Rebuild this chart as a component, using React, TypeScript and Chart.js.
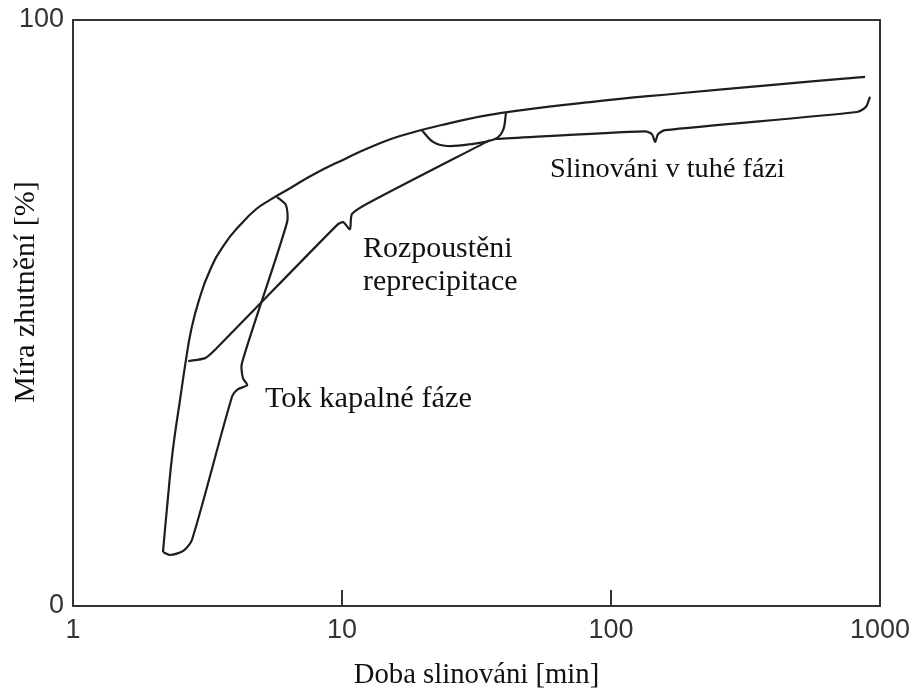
import React, { useEffect, useRef } from "react";
import { Chart, registerables } from "chart.js";

Chart.register(...registerables);

// ---- tick values / labels ----
const xTickValues = [1, 10, 100, 1000];
const xTickLabels = ["1", "10", "100", "1000"];
const yTickValues = [0, 100];
const yTickLabels = ["0", "100"];
const xInnerTicks = [10, 100];

// ---- axis titles ----
const xTitle = "Doba slinováni [min]";
const yTitle = "Míra zhutnění [%]";

// ---- main densification curve ----
const mainX = [2.16, 2.25, 2.35, 2.5, 2.63, 2.75, 2.94, 3.23, 3.64, 4.18, 4.79, 5.4, 6.41, 7.8, 10.26, 12.93, 16.43, 25.2, 38.7, 83.6, 180.5, 390, 880];
const mainY = [9.2, 18.1, 26.6, 35.2, 42.0, 47.1, 52.2, 57.3, 61.6, 65.0, 67.7, 69.3, 71.3, 73.6, 76.3, 78.4, 80.2, 82.4, 84.1, 86.0, 87.5, 88.9, 90.3];

// ---- stage 1: liquid flow (Tok kapalné fáze) ----
const flowX = [2.16, 2.29, 2.57, 2.77, 3.9, 4.11, 4.44, 4.28, 4.25, 6.25, 6.19, 5.73];
const flowY = [9.2, 8.7, 9.4, 11.3, 35.7, 37.0, 37.7, 38.9, 41.5, 65.5, 68.4, 69.8];

// ---- stage 2: solution-reprecipitation ----
const reprecX = [2.68, 3.1, 3.37, 9.58, 10.1, 10.7, 10.9, 12.7, 35.5];
const reprecY = [41.8, 42.3, 43.7, 65.0, 65.5, 64.3, 66.9, 68.9, 79.5];

// ---- stage 3: solid-state sintering (loop) ----
const solidLoopX = [19.8, 21.8, 24.6, 29.9, 37.1, 39.7, 40.7];
const solidLoopY = [81.2, 79.2, 78.5, 78.8, 79.7, 81.2, 84.1];

// ---- stage 3: brace ----
const solidBraceX = [37.1, 133.8, 142, 146, 149.5, 158.8, 821, 887, 918];
const solidBraceY = [79.7, 81.0, 80.5, 79.2, 80.5, 81.2, 84.3, 85.2, 86.9];

// ---- annotation labels (data coordinates of left/baseline) ----
const labelTexts = ["Tok kapalné fáze", "Rozpoustěni", "reprecipitace", "Slinováni v tuhé fázi"];
const labelX = [5.17, 11.98, 11.98, 59.3];
const labelY = [34.0, 59.6, 53.9, 73.2];

// ---- styles ----
const SERIF = "'Liberation Serif', 'Times New Roman', serif";
const SANS = "'Liberation Sans', Arial, sans-serif";
const LINE_COLOR = "#1e1e1e";
const labelFontSizes = [30.4, 29.9, 29.9, 28.3];
const X_TITLE_SIZE = 28.7;
const Y_TITLE_SIZE = 30;

function zip(xs: number[], ys: number[]) {
  return xs.map((x, i) => ({ x, y: ys[i] }));
}

const decorPlugin = {
  id: "decor",
  afterDraw(chart: any) {
    const { ctx, chartArea } = chart;
    const xs = chart.scales.x;
    const ys = chart.scales.y;
    ctx.save();
    // frame
    ctx.strokeStyle = "#333";
    ctx.lineWidth = 2;
    ctx.strokeRect(chartArea.left, chartArea.top, chartArea.right - chartArea.left, chartArea.bottom - chartArea.top);
    // inward ticks
    xInnerTicks.forEach((v) => {
      const px = Math.round(xs.getPixelForValue(v));
      ctx.beginPath();
      ctx.moveTo(px, chartArea.bottom);
      ctx.lineTo(px, chartArea.bottom - 16);
      ctx.stroke();
    });
    // annotations
    ctx.fillStyle = "#111";
    ctx.textAlign = "left";
    ctx.textBaseline = "alphabetic";
    labelTexts.forEach((t, i) => {
      ctx.font = `${labelFontSizes[i]}px ${SERIF}`;
      ctx.fillText(t, xs.getPixelForValue(labelX[i]), ys.getPixelForValue(labelY[i]));
    });
    // y axis title
    ctx.font = `${Y_TITLE_SIZE}px ${SERIF}`;
    ctx.translate(26, (ys.top + ys.bottom) / 2 - 21);
    ctx.rotate(-Math.PI / 2);
    ctx.textAlign = "center";
    ctx.textBaseline = "middle";
    ctx.fillText(yTitle, 0, 0);
    ctx.restore();
  },
};

export default function App() {
  const ref = useRef<HTMLCanvasElement | null>(null);

  useEffect(() => {
    if (!ref.current) return;
    const mk = (xs: number[], ys: number[], tension: number) => ({
      data: zip(xs, ys),
      borderColor: LINE_COLOR,
      borderWidth: 2.2,
      pointRadius: 0,
      fill: false,
      tension,
    });
    const chart = new Chart(ref.current, {
      type: "line",
      data: {
        datasets: [
          mk(mainX, mainY, 0.5),
          mk(flowX, flowY, 0.25),
          mk(reprecX, reprecY, 0.25),
          mk(solidLoopX, solidLoopY, 0.35),
          mk(solidBraceX, solidBraceY, 0.25),
        ],
      },
      options: {
        animation: false,
        responsive: false,
        devicePixelRatio: 1,
        layout: { padding: { top: 20, right: 34, left: 0, bottom: 0 } },
        plugins: { legend: { display: false }, tooltip: { enabled: false } },
        scales: {
          x: {
            type: "logarithmic",
            min: 1,
            max: 1000,
            afterBuildTicks: (s: any) => {
              s.ticks = xTickValues.map((v) => ({ value: v }));
            },
            afterFit: (s: any) => {
              s.height = 89;
              s.paddingLeft = 0;
              s.paddingRight = 0;
            },
            ticks: {
              autoSkip: false,
              maxRotation: 0,
              padding: 8,
              color: "#333",
              font: { family: SANS, size: 27 },
              callback: (_v: any, i: number) => xTickLabels[i],
            },
            grid: { display: false, drawTicks: false },
            border: { display: false },
            title: {
              display: true,
              text: xTitle,
              color: "#111",
              font: { family: SERIF, size: X_TITLE_SIZE },
              padding: { top: 0, bottom: 2 },
            },
          },
          y: {
            type: "linear",
            min: 0,
            max: 100,
            afterBuildTicks: (s: any) => {
              s.ticks = yTickValues.map((v) => ({ value: v }));
            },
            afterFit: (s: any) => {
              s.width = 73;
              s.paddingTop = 0;
              s.paddingBottom = 0;
            },
            ticks: {
              padding: 9,
              color: "#333",
              font: { family: SANS, size: 27 },
              callback: (_v: any, i: number) => yTickLabels[i],
            },
            grid: { display: false, drawTicks: false },
            border: { display: false },
          },
        },
      } as any,
      plugins: [decorPlugin],
    });
    return () => chart.destroy();
  }, []);

  return (
    <div style={{ position: "fixed", left: 0, top: 0, width: 914, height: 695, background: "#fff" }}>
      <canvas ref={ref} width={914} height={695} style={{ width: 914, height: 695, display: "block" }} />
    </div>
  );
}
